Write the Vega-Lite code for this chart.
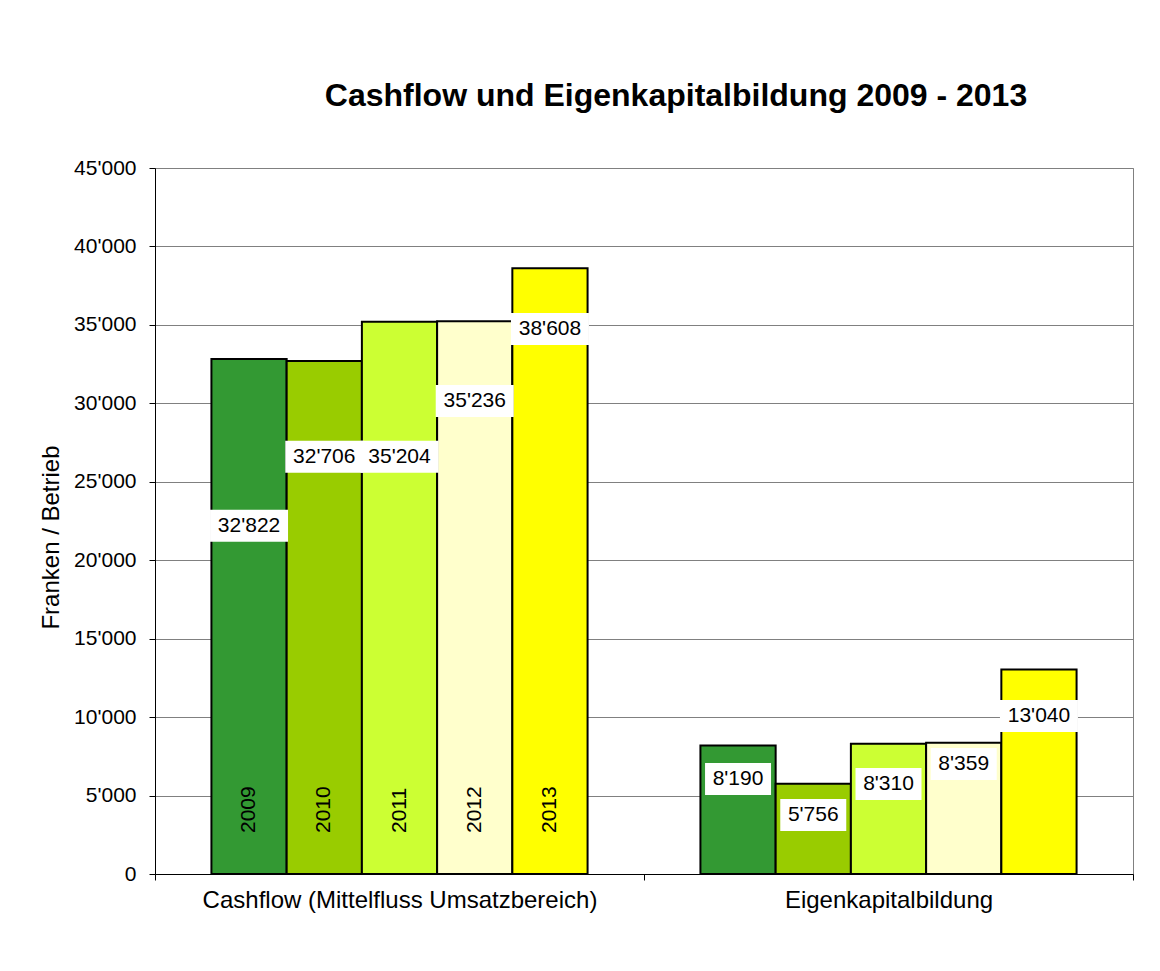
{
  "$schema": "https://vega.github.io/schema/vega-lite/v6.json",
  "width": 978,
  "height": 706,
  "autosize": {"type": "none"},
  "padding": {"left": 155, "top": 168, "right": 27, "bottom": 97},
  "background": "white",
  "title": {
    "text": "Cashflow und Eigenkapitalbildung 2009 - 2013",
    "font": "Liberation Sans",
    "fontSize": 32,
    "fontWeight": "bold",
    "color": "black",
    "anchor": "middle",
    "dx": 32,
    "offset": 44
  },
  "config": {
    "locale": {"number": {"decimal": ".", "thousands": "'", "grouping": [3], "currency": ["", ""]}},
    "view": {"stroke": "#808080", "strokeWidth": 1},
    "font": "Liberation Sans",
    "axis": {"labelFont": "Liberation Sans", "titleFont": "Liberation Sans", "labelColor": "black", "titleColor": "black"}
  },
  "data": {
    "values": [
      {"category": "Cashflow (Mittelfluss Umsatzbereich)", "year": "2009", "value": 32822, "labelAt": 22200},
      {"category": "Cashflow (Mittelfluss Umsatzbereich)", "year": "2010", "value": 32706, "labelAt": 26600},
      {"category": "Cashflow (Mittelfluss Umsatzbereich)", "year": "2011", "value": 35204, "labelAt": 26600},
      {"category": "Cashflow (Mittelfluss Umsatzbereich)", "year": "2012", "value": 35236, "labelAt": 30150},
      {"category": "Cashflow (Mittelfluss Umsatzbereich)", "year": "2013", "value": 38608, "labelAt": 34740},
      {"category": "Eigenkapitalbildung", "year": "2009", "value": 8190, "labelAt": 6050},
      {"category": "Eigenkapitalbildung", "year": "2010", "value": 5756, "labelAt": 3760},
      {"category": "Eigenkapitalbildung", "year": "2011", "value": 8310, "labelAt": 5740},
      {"category": "Eigenkapitalbildung", "year": "2012", "value": 8359, "labelAt": 7010},
      {"category": "Eigenkapitalbildung", "year": "2013", "value": 13040, "labelAt": 10070}
    ]
  },
  "encoding": {
    "x": {
      "field": "category",
      "type": "nominal",
      "sort": null,
      "scale": {"paddingInner": 0, "paddingOuter": 0},
      "axis": {
        "title": null,
        "labelAngle": 0,
        "labelFontSize": 24,
        "labelPadding": 8,
        "labelLimit": 0,
        "domainColor": "black",
        "tickColor": "black",
        "tickSize": 6,
        "tickBand": "extent",
        "grid": false
      }
    },
    "xOffset": {
      "field": "year",
      "type": "nominal",
      "sort": null,
      "scale": {"paddingInner": 0, "paddingOuter": 0.75}
    }
  },
  "layer": [
    {
      "mark": {"type": "bar", "stroke": "black", "strokeWidth": 2},
      "encoding": {
        "y": {
          "field": "value",
          "type": "quantitative",
          "scale": {"domain": [0, 45000], "nice": false},
          "axis": {
            "title": "Franken / Betrieb",
            "titleFontSize": 24,
            "titleFontWeight": "normal",
            "titlePadding": 10,
            "titleY": 369,
            "labelFontSize": 21,
            "labelPadding": 13,
            "format": ",d",
            "values": [0, 5000, 10000, 15000, 20000, 25000, 30000, 35000, 40000, 45000],
            "grid": true,
            "gridColor": "#808080",
            "gridWidth": 1,
            "domainColor": "black",
            "tickColor": "black",
            "tickSize": 6
          }
        },
        "color": {
          "field": "year",
          "type": "nominal",
          "scale": {
            "domain": ["2009", "2010", "2011", "2012", "2013"],
            "range": ["#339933", "#99CC00", "#CCFF33", "#FFFFCC", "#FFFF00"]
          },
          "legend": null
        }
      }
    },
    {
      "mark": {"type": "point", "filled": true, "fill": "white", "opacity": 1, "strokeWidth": 0},
      "encoding": {
        "y": {"field": "labelAt", "type": "quantitative"},
        "shape": {
          "condition": {"test": "datum.value >= 10000", "value": "M-1,-0.41L1,-0.41L1,0.41L-1,0.41Z"},
          "value": "M-1,-0.485L1,-0.485L1,0.485L-1,0.485Z"
        },
        "size": {
          "condition": {"test": "datum.value >= 10000", "value": 6084},
          "value": 4356
        }
      }
    },
    {
      "mark": {"type": "text", "fontSize": 21, "color": "black", "baseline": "middle", "align": "center", "font": "Liberation Sans"},
      "encoding": {
        "y": {"field": "labelAt", "type": "quantitative"},
        "text": {"field": "value", "type": "quantitative", "format": ",d"}
      }
    },
    {
      "transform": [{"filter": "datum.category === 'Cashflow (Mittelfluss Umsatzbereich)'"}],
      "mark": {"type": "text", "fontSize": 21, "color": "black", "angle": 270, "align": "left", "baseline": "middle", "dx": 41, "font": "Liberation Sans"},
      "encoding": {
        "y": {"datum": 0, "type": "quantitative"},
        "text": {"field": "year", "type": "nominal"}
      }
    }
  ]
}
